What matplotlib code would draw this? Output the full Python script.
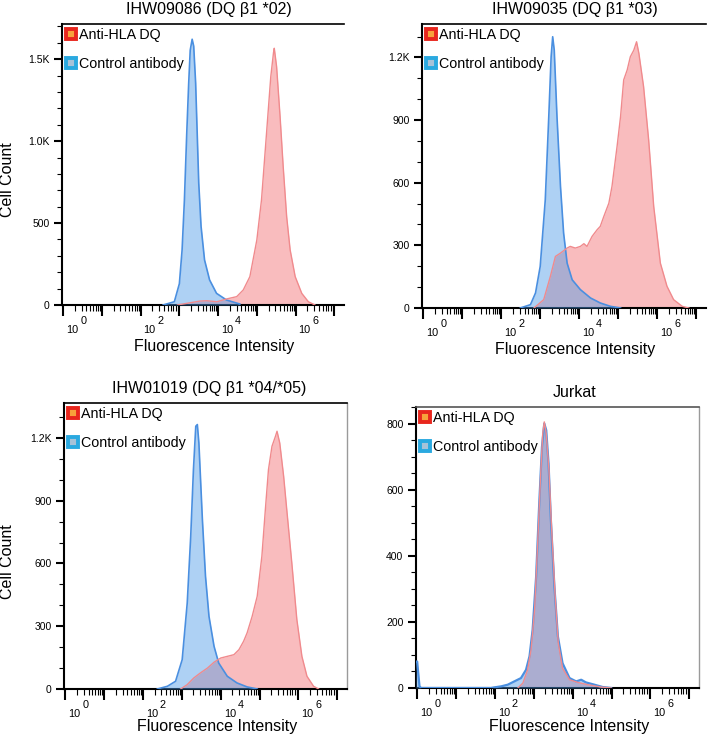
import numpy as np
import matplotlib.pyplot as plt
from matplotlib.lines import Line2D
from matplotlib.ticker import FixedLocator, MultipleLocator, FuncFormatter, NullFormatter
import matplotlib.transforms as mtrans

plt.rcParams['font.family'] = ['Liberation Sans', 'DejaVu Sans']

# histogram traces: x in log10(intensity), y in cell count
titles = ['IHW09086 (DQ β1 *02)', 'IHW09035 (DQ β1 *03)',
          'IHW01019 (DQ β1 *04/*05)', 'Jurkat']

p1_ctrl_x = [2.58, 2.87, 3.0, 3.07, 3.13, 3.19, 3.24, 3.28, 3.33, 3.37, 3.42, 3.46, 3.5, 3.56, 3.65, 3.78, 3.96, 4.22, 4.56]
p1_ctrl_y = [0, 20, 130, 335, 640, 1045, 1350, 1555, 1622, 1580, 1355, 1050, 745, 480, 275, 153, 71, 30, 6]
p1_anti_x = [2.95, 3.19, 3.53, 3.71, 3.97, 4.22, 4.48, 4.65, 4.82, 5.0, 5.12, 5.25, 5.36, 5.43, 5.45, 5.51, 5.6, 5.68, 5.77, 5.86, 5.99, 6.16, 6.33, 6.5]
p1_anti_y = [0, 10, 24, 26, 20, 37, 51, 92, 173, 397, 641, 1048, 1394, 1540, 1567, 1455, 1150, 845, 539, 336, 173, 71, 20, 0]

p2_ctrl_x = [2.49, 2.75, 2.88, 3.0, 3.13, 3.22, 3.28, 3.32, 3.36, 3.43, 3.52, 3.6, 3.69, 3.82, 4.03, 4.29, 4.54, 4.8, 5.06]
p2_ctrl_y = [0, 16, 72, 199, 518, 917, 1203, 1299, 1235, 917, 582, 359, 215, 135, 88, 48, 24, 8, 0]
p2_anti_x = [2.84, 3.09, 3.26, 3.39, 3.52, 3.69, 3.77, 3.9, 4.03, 4.12, 4.2, 4.33, 4.46, 4.54, 4.63, 4.76, 4.84, 4.97, 5.06, 5.14,
             5.23, 5.31, 5.4, 5.47, 5.53, 5.65, 5.78, 5.91, 6.08, 6.25, 6.42, 6.64, 6.81]
p2_anti_y = [0, 40, 151, 247, 263, 287, 295, 287, 295, 308, 295, 343, 375, 391, 438, 502, 582, 773, 917, 1092,
             1140, 1203, 1235, 1275, 1219, 1060, 805, 486, 215, 104, 40, 8, 0]

p3_ctrl_x = [2.37, 2.63, 2.84, 3.01, 3.14, 3.23, 3.3, 3.36, 3.4, 3.44, 3.53, 3.61, 3.7, 3.83, 3.95, 4.17, 4.42, 4.68, 4.94]
p3_ctrl_y = [0, 13, 37, 140, 411, 730, 1049, 1256, 1264, 1176, 810, 539, 347, 204, 124, 61, 29, 10, 0]
p3_anti_x = [2.97, 3.14, 3.31, 3.48, 3.66, 3.83, 4.0, 4.17, 4.34, 4.47, 4.59, 4.68, 4.81, 4.94, 5.06, 5.15, 5.23, 5.32, 5.41,
             5.45, 5.52, 5.62, 5.7, 5.83, 5.96, 6.09, 6.22, 6.39, 6.52]
p3_anti_y = [0, 21, 53, 77, 100, 128, 148, 156, 164, 188, 228, 268, 347, 443, 634, 858, 1049, 1160, 1208,
             1232, 1176, 1017, 858, 603, 332, 156, 61, 13, 0]

p4_ctrl_x = [-0.03, 0.0, 0.06, 0.1, 1.9, 1.99, 2.16, 2.33, 2.5, 2.67, 2.8, 2.89, 2.97, 3.06, 3.14, 3.21, 3.27, 3.32, 3.38,
             3.44, 3.53, 3.62, 3.74, 3.92, 4.09, 4.22, 4.34, 4.56, 4.77, 4.99]
p4_ctrl_y = [80, 80, 5, 0, 0, 2, 5, 10, 20, 30, 55, 96, 176, 337, 558, 729, 800, 780, 679,
             508, 307, 156, 75, 30, 20, 25, 17, 10, 3, 0]
p4_anti_x = [2.59, 2.72, 2.84, 2.93, 3.02, 3.1, 3.17, 3.23, 3.27, 3.32, 3.39, 3.46, 3.55, 3.63, 3.74, 3.92, 4.13, 4.39, 4.73, 4.99]
p4_anti_y = [0, 15, 55, 116, 236, 438, 629, 770, 805, 770, 659, 478, 277, 136, 60, 25, 17, 10, 3, 0]

ctrl_x = [p1_ctrl_x, p2_ctrl_x, p3_ctrl_x, p4_ctrl_x]
ctrl_y = [p1_ctrl_y, p2_ctrl_y, p3_ctrl_y, p4_ctrl_y]
anti_x = [p1_anti_x, p2_anti_x, p3_anti_x, p4_anti_x]
anti_y = [p1_anti_y, p2_anti_y, p3_anti_y, p4_anti_y]

y_tops = [1715, 1360, 1367, 850]
y_major = [[0, 500, 1000, 1500], [0, 300, 600, 900, 1200], [0, 300, 600, 900, 1200], [0, 200, 400, 600, 800]]
y_minor = [100, 100, 100, 50]
x_label_decades = [0, 2, 4, 6]

# axes boxes in pixels: left, top, right, bottom
W, H = 708, 737
boxes = [(62, 24, 344, 305), (422, 24, 706, 308), (64, 403, 347, 689), (416, 407, 699, 688)]
xlabel_gap = [34, 34, 30, 31]
title_x = [0.52, 0.54, 0.512, 0.56]

red_fill, red_line = '#f26b70', '#f08a8d'
blue_fill, blue_line = '#4d9be8', '#4a8fe0'


def kfmt(v, pos):
    if v >= 1000:
        return f'{v / 1000:.1f}K'
    return f'{int(v)}'


fig = plt.figure(figsize=(W / 100, H / 100), dpi=100)


def px(dx, dy):
    return mtrans.ScaledTranslation(dx / 100, dy / 100, fig.dpi_scale_trans)


for i in range(4):
    l, t, r, b = boxes[i]
    ax = fig.add_axes([l / W, 1 - b / H, (r - l) / W, (b - t) / H])
    ax.set_xscale('log')

    ax.fill_between(10 ** np.array(anti_x[i]), anti_y[i], color=red_fill, alpha=0.45, lw=0, zorder=2)
    ax.plot(10 ** np.array(anti_x[i]), anti_y[i], color=red_line, lw=1.0, zorder=4)
    ax.fill_between(10 ** np.array(ctrl_x[i]), ctrl_y[i], color=blue_fill, alpha=0.45, lw=0, zorder=3)
    ax.plot(10 ** np.array(ctrl_x[i]), ctrl_y[i], color=blue_line, lw=1.2 if i < 3 else 1.6, zorder=3)

    ax.set_xlim(10 ** -0.03, 10 ** 7.25)
    ax.set_ylim(0, y_tops[i])

    # x ticks: every decade, labels drawn by hand so the exponent is full size
    ax.xaxis.set_major_locator(FixedLocator([10.0 ** k for k in range(8)]))
    minors = [m * 10.0 ** k for k in range(7) for m in range(2, 10)]
    ax.xaxis.set_minor_locator(FixedLocator(minors))
    ax.xaxis.set_major_formatter(NullFormatter())
    ax.xaxis.set_minor_formatter(NullFormatter())
    ax.tick_params(axis='x', which='major', length=8, width=1.5)
    ax.tick_params(axis='x', which='minor', length=4, width=0.8)
    trans = ax.get_xaxis_transform()
    for k in x_label_decades:
        ax.text(10.0 ** k, 0, '10', fontsize=7.8, ha='left', va='baseline',
                transform=trans + px(3, -28), clip_on=False)
        ax.text(10.0 ** k, 0, str(k), fontsize=7.8, ha='left', va='baseline',
                transform=trans + px(17, -19), clip_on=False)

    ax.yaxis.set_major_locator(FixedLocator(y_major[i]))
    ax.yaxis.set_minor_locator(MultipleLocator(y_minor[i]))
    ax.yaxis.set_major_formatter(FuncFormatter(kfmt))
    ax.tick_params(axis='y', which='major', length=6, width=1.5, labelsize=7.5, pad=3)
    ax.tick_params(axis='y', which='minor', length=3.5, width=0.8)

    for s in ['left', 'bottom']:
        ax.spines[s].set_linewidth(1.5)
    ax.spines['top'].set_linewidth(1.2)
    if i < 2:
        ax.spines['right'].set_visible(False)
    else:
        ax.spines['right'].set_color('#9a9a9a')
        ax.spines['right'].set_linewidth(1.0)
    if i == 3:
        ax.spines['top'].set_color('#555555')

    ax.set_title(titles[i], fontsize=11.5, pad=7, x=title_x[i])
    ax.set_xlabel('Fluorescence Intensity', fontsize=11.5, labelpad=0)
    ax.xaxis.set_label_coords(0.54, -xlabel_gap[i] / (b - t))
    if i % 2 == 0:
        ax.set_ylabel('Cell Count', fontsize=11.5)
        ax.yaxis.set_label_coords(-(l - 15) / (r - l), 0.445)

    handles = [Line2D([], [], ls='none', marker='s', ms=6.5, mew=2.8, mfc='#f7a23b', mec='#e8261d'),
               Line2D([], [], ls='none', marker='s', ms=6.5, mew=2.8, mfc='#a7c2d8', mec='#2aa9e0')]
    ax.legend(handles, ['Anti-HLA DQ', 'Control antibody'], loc='upper left', frameon=False,
              fontsize=10.3, handlelength=0.7, handletextpad=0.25, labelspacing=1.1,
              borderpad=0.0, borderaxespad=0.25, bbox_to_anchor=(0.0, 1.0))

fig.savefig('out.png', dpi=100)
